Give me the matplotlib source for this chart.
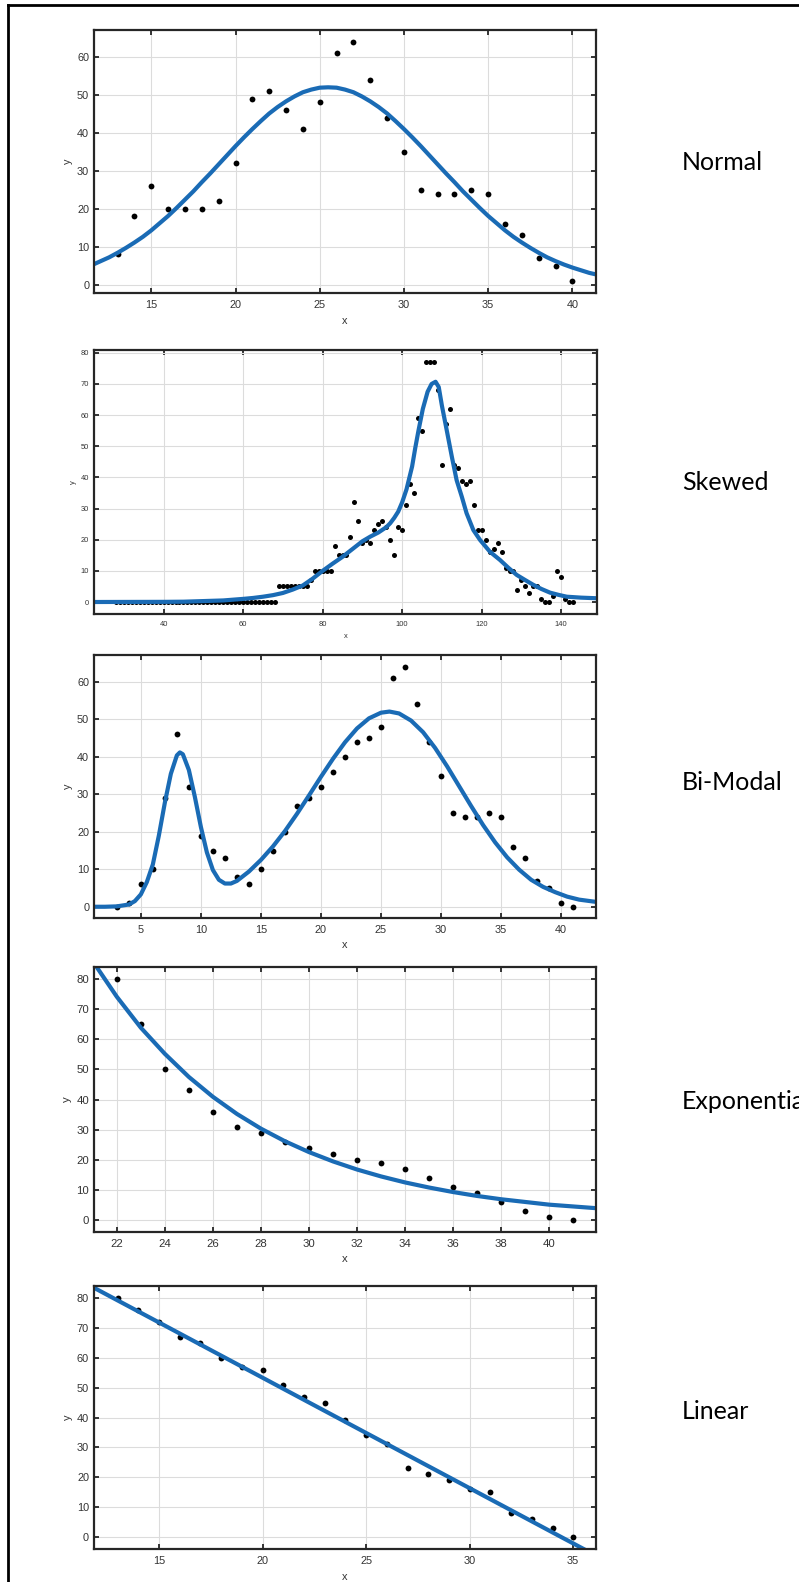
import matplotlib
matplotlib.use('Agg')
import matplotlib.pyplot as plt
from matplotlib.lines import Line2D

plt.rcParams['font.family'] = ['Liberation Sans', 'DejaVu Sans']

# ---- data ----
normal_x = list(range(13, 41))
normal_y = [8, 18, 26, 20, 20, 20, 22, 32, 49, 51,
            46, 41, 48, 61, 64, 54, 44, 35, 25, 24,
            24, 25, 24, 16, 13, 7, 5, 1]
normal_fit_x = [11.6, 12, 12.5, 13, 13.5, 14, 14.5, 15, 15.5, 16, 16.5, 17, 17.5, 18, 18.5,
                19, 19.5, 20, 20.5, 21, 21.5, 22, 22.5, 23, 23.5, 24, 24.5, 25, 25.5,
                26, 26.5, 27, 27.5, 28, 28.5, 29, 29.5, 30, 30.5, 31, 31.5, 32, 32.5,
                33, 33.5, 34, 34.5, 35, 35.5, 36, 36.5, 37, 37.5, 38, 38.5, 39, 39.5,
                40, 40.5, 41, 41.4]
normal_fit_y = [5.4, 6.2, 7.2, 8.4, 9.7, 11.1, 12.6, 14.3, 16.2, 18.1, 20.2, 22.4, 24.6, 27.0, 29.3,
                31.7, 34.1, 36.5, 38.8, 41.0, 43.1, 45.1, 46.8, 48.3, 49.6, 50.7, 51.4, 51.9, 52.0,
                51.9, 51.4, 50.7, 49.6, 48.3, 46.8, 45.1, 43.1, 41.0, 38.8, 36.5, 34.1, 31.7, 29.3,
                27.0, 24.6, 22.4, 20.2, 18.1, 16.2, 14.3, 12.6, 11.1, 9.7, 8.4, 7.2, 6.2, 5.3,
                4.5, 3.8, 3.1, 2.7]

skew_x = list(range(28, 144))
skew_y = [0, 0, 0, 0, 0, 0, 0, 0, 0, 0,
          0, 0, 0, 0, 0, 0, 0, 0, 0, 0,
          0, 0, 0, 0, 0, 0, 0, 0, 0, 0,
          0, 0, 0, 0, 0, 0, 0, 0, 0, 0,
          0, 5, 5, 5, 5, 5, 5, 5, 5, 7,
          10, 10, 10, 10, 10, 18, 15, 15, 15, 21,
          32, 26, 19, 20, 19, 23, 25, 26, 24, 20,
          15, 24, 23, 31, 38, 35, 59, 55, 77, 77,
          77, 68, 44, 57, 62, 44, 43, 39, 38, 39,
          31, 23, 23, 20, 16, 17, 19, 16, 11, 10,
          10, 4, 7, 5, 3, 5, 5, 1, 0, 0,
          2, 10, 8, 1, 0, 0]
skew_fit_x = [22.5, 40, 45, 50, 55, 60, 62.5, 65, 67.5, 70, 72.5, 75, 77.5, 80, 82.5, 85,
              87.5, 90, 92, 94, 96, 97, 98, 99, 100, 101.1, 102.5, 103.3, 104.1, 105.2,
              106.4, 107.4, 108.4, 109.2, 110.0, 111.2, 112.5, 113.7, 115.0, 116.2, 117.9,
              119.6, 122.1, 124.6, 126.7, 128.8, 131, 133.0, 135, 137.2, 139.3, 141.4, 145, 149]
skew_fit_y = [0, 0.05, 0.1, 0.3, 0.5, 1.0, 1.3, 1.7, 2.2, 2.9, 4.0, 5.3, 7.5, 10.0, 12.3, 14.5,
              17.0, 19.5, 21.0, 22.3, 24.0, 25.3, 27.0, 29.0, 32.0, 36.2, 43.5, 49.5, 55.0, 62.0,
              67.5, 70.0, 70.7, 69.0, 63.0, 55.2, 46.6, 39.1, 33.8, 28.5, 23.1,
              19.9, 16.1, 13.5, 11.0, 8.7, 7.0, 5.5, 4.2, 3.0, 2.3, 1.7, 1.4, 1.2]

bi_x = list(range(3, 42))
bi_y = [0, 1, 6, 10, 29, 46, 32, 19, 15, 13,
        8, 6, 10, 15, 20, 27, 29, 32, 36, 40,
        44, 45, 48, 61, 64, 54, 44, 35, 25, 24,
        24, 25, 24, 16, 13, 7, 5, 1, 0]
bi_fit_x = [1.1, 2.0, 3.0, 4.0, 4.5, 5.0, 5.5, 6.0, 6.5, 7.0, 7.5, 8.0, 8.25, 8.5, 9.0,
            9.5, 10.0, 10.5, 11.0, 11.5, 12.0, 12.5, 13.0, 14.0, 15.0, 16.0, 17.0, 18.0,
            19.0, 20.0, 21.0, 22.0, 23.0, 24.0, 25.0, 25.7, 26.5, 27.5, 28.5, 29.5, 30.5,
            31.5, 32.5, 33.5, 34.5, 35.5, 36.5, 37.5, 38.5, 39.5, 40.5, 41.5, 42.9]
bi_fit_y = [0, 0, 0.1, 0.6, 1.5, 3.3, 6.6, 11.3, 19.0, 27.8, 35.5, 40.4, 41.2, 40.7, 36.5,
            29.3, 21.3, 14.5, 9.8, 7.2, 6.2, 6.2, 6.9, 9.4, 12.5, 16.1, 20.2, 24.8,
            29.7, 34.7, 39.5, 43.9, 47.6, 50.3, 51.8, 52.1, 51.6, 49.7, 46.6, 42.4, 37.5,
            32.2, 26.9, 21.8, 17.2, 13.2, 9.9, 7.2, 5.3, 3.9, 2.7, 1.9, 1.3]

exp_x = list(range(22, 42))
exp_y = [80, 65, 50, 43, 36, 31, 29, 26, 24, 22, 20, 19, 17, 14, 11, 9, 6, 3, 1, 0]
exp_fit_x = list(range(21, 43))
exp_fit_y = [86.0, 74.2, 63.9, 55.2, 47.5, 40.9, 35.2, 30.3, 26.1, 22.5, 19.4, 16.7,
             14.4, 12.4, 10.7, 9.2, 7.9, 6.8, 5.9, 5.0, 4.4, 3.8]

lin_x = list(range(13, 36))
lin_y = [80, 76, 72, 67, 65, 60, 57, 56, 51, 47, 45, 39, 34, 31, 23, 21, 19, 16, 15, 8, 6, 3, 0]
lin_fit_x = [11.86, 36.1]
lin_fit_y = [83.3, -6.1]

names = ['Normal', 'Skewed', 'Bi-Modal', 'Exponential', 'Linear']
xticks = [range(15, 41, 5), range(40, 141, 20), range(5, 41, 5), range(22, 41, 2), range(15, 36, 5)]
yticks = [range(0, 61, 10), range(0, 81, 10), range(0, 61, 10), range(0, 81, 10), range(0, 81, 10)]
xlims = [(11.6, 41.4), (22.5, 149), (1.1, 42.9), (21.05, 41.95), (11.86, 36.1)]
ylims = [(-2.2, 67.1), (-3.85, 80.9), (-3.0, 67.2), (-4.1, 84.1), (-3.9, 83.9)]

# ---- layout (pixels) ----
W, H = 799, 1582
boxes = [(94, 30, 596, 293), (94, 350, 597, 614), (94, 655, 596, 918),
         (94, 967, 596, 1232), (94, 1286, 596, 1549)]
label_base = [170, 490, 790, 1109, 1419]
tick_fs = [7.8, 5.4, 7.8, 8.2, 7.9]

blue = '#1a6bb5'
dark = '#262626'

fig = plt.figure(figsize=(W / 100, H / 100), dpi=100)

data = [(normal_x, normal_y, normal_fit_x, normal_fit_y),
        (skew_x, skew_y, skew_fit_x, skew_fit_y),
        (bi_x, bi_y, bi_fit_x, bi_fit_y),
        (exp_x, exp_y, exp_fit_x, exp_fit_y),
        (lin_x, lin_y, lin_fit_x, lin_fit_y)]

for i, (x, y, fx, fy) in enumerate(data):
    l, t, r, b = boxes[i]
    ax = fig.add_axes([l / W, 1 - b / H, (r - l) / W, (b - t) / H])
    ax.plot(x, y, 'o', color='black', ms=4.2 if i != 1 else 3.6, mew=0)
    ax.plot(fx, fy, '-', color=blue, lw=3, solid_joinstyle='round')
    ax.set_xlim(*xlims[i])
    ax.set_ylim(*ylims[i])
    ax.set_xticks(list(xticks[i]))
    ax.set_yticks(list(yticks[i]))
    ax.grid(True, color='#dcdcdc', lw=0.8)
    ax.set_axisbelow(True)
    for s in ax.spines.values():
        s.set_linewidth(1.6)
        s.set_color(dark)
    ax.tick_params(direction='in', length=3.5, width=1.3, top=True, right=True,
                   color=dark, labelcolor='#333333', labelsize=tick_fs[i])
    ax.tick_params(axis='x', pad=5)
    ax.tick_params(axis='y', pad=3.5)
    ax.set_xlabel('x', fontsize=tick_fs[i], color='#333333', labelpad=4)
    ax.set_ylabel('y', fontsize=tick_fs[i], color='#333333', labelpad=3)

    fig.text(682 / W, 1 - label_base[i] / H, names[i], fontsize=18, family='Lato',
             va='baseline', ha='left', color='black')

# outer frame, only top and left show
fig.add_artist(Line2D([8 / W, 8 / W], [0, 1 - 5 / H], color='black', lw=2))
fig.add_artist(Line2D([8 / W, 1], [1 - 5 / H, 1 - 5 / H], color='black', lw=2))

fig.savefig('out.png', dpi=100)
